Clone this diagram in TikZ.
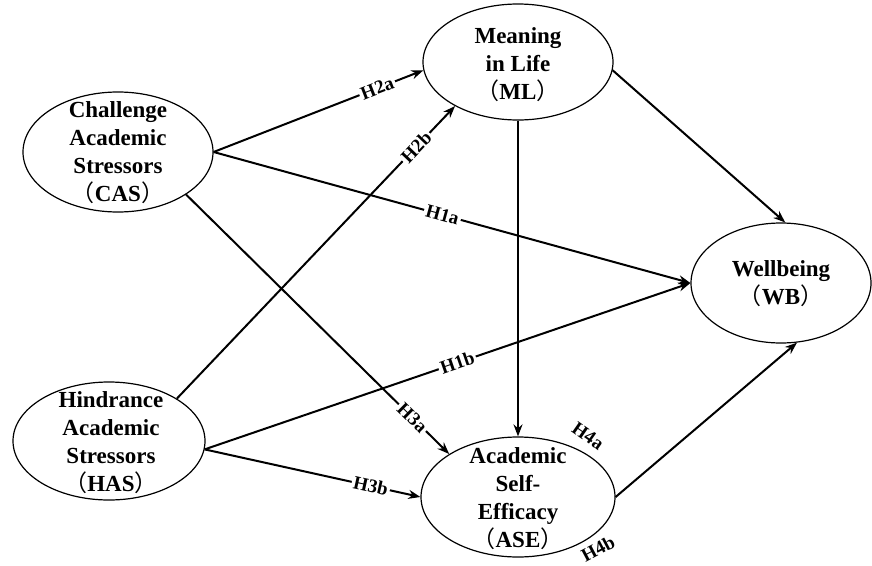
\documentclass[tikz,border=0pt]{standalone}
\usepackage{fontspec}
\setmainfont{Liberation Serif}
\newfontfamily\cjkfont{Noto Sans CJK SC}
\usetikzlibrary{arrows.meta,shapes.geometric}
\newcommand{\lpar}{{\cjkfont\mdseries （}}
\newcommand{\rpar}{{\cjkfont\mdseries ）}}
\begin{document}
\begin{tikzpicture}[x=1pt,y=-1pt,
  var/.style={ellipse, draw, line width=1.2pt, inner sep=0pt},
  vartext/.style={align=center, inner sep=0pt, font=\bfseries\fontsize{23}{28}\selectfont},
  conn/.style={line width=2pt, -{Stealth[length=12pt,width=9pt]}},
  lab/.style={font=\bfseries\fontsize{19}{20}\selectfont, fill=white, inner sep=2pt, sloped},
  freelab/.style={font=\bfseries\fontsize{19}{20}\selectfont, inner sep=0pt}]
\fill[white] (0,0) rectangle (872,565);
\useasboundingbox (0,0) rectangle (872,565);

% ellipses
\node[var, minimum width=190pt, minimum height=120pt] (CAS) at (118,152) {};
\node[var, minimum width=192pt, minimum height=118pt] (HAS) at (109,441) {};
\node[var, minimum width=190pt, minimum height=116pt] (ML) at (518,62) {};
\node[var, minimum width=194pt, minimum height=120pt] (ASE) at (518,497) {};
\node[var, minimum width=180pt, minimum height=120pt] (WB) at (781,283) {};

% texts
\node[vartext] (CAStext) at (118,153) {Challenge\\Academic\\Stressors\\\lpar CAS\rpar};
\node[vartext] (HAStext) at (111,443) {Hindrance\\Academic\\Stressors\\\lpar HAS\rpar};
\node[vartext] (MLtext) at (518,65) {Meaning\\in Life\\\lpar ML\rpar};
\node[vartext] (ASEtext) at (518,499) {Academic\\Self-\\Efficacy\\\lpar ASE\rpar};
\node[vartext] (WBtext) at (781,284) {Wellbeing\\\lpar WB\rpar};

% connectors
\draw[conn] (CAS.east) -- node[lab,pos=0.78] {H2a} (ML.185);
\draw[conn] (CAS.east) -- node[lab,pos=0.48] {H1a} (WB.west);
\draw[conn] (CAS.-32) -- node[lab,pos=0.86] {H3a} (ASE.148);
\draw[conn] (HAS.32) -- node[lab,pos=0.86] {H2b} (ML.215);
\draw[conn] (HAS.-5) -- node[lab,pos=0.52] {H1b} (WB.west);
\draw[conn] (HAS.-5) -- node[lab,pos=0.77] {H3b} (ASE.west);
\draw[conn] (ML.-5) -- (WB.86);
\draw[conn] (ML.south) -- (ASE.north);
\draw[conn] (ASE.east) -- (WB.-75);

% free labels
\node[freelab, rotate=-35] (H4a) at (588,436) {H4a};
\node[freelab, rotate=28] (H4b) at (598,549) {H4b};
\end{tikzpicture}
\end{document}
